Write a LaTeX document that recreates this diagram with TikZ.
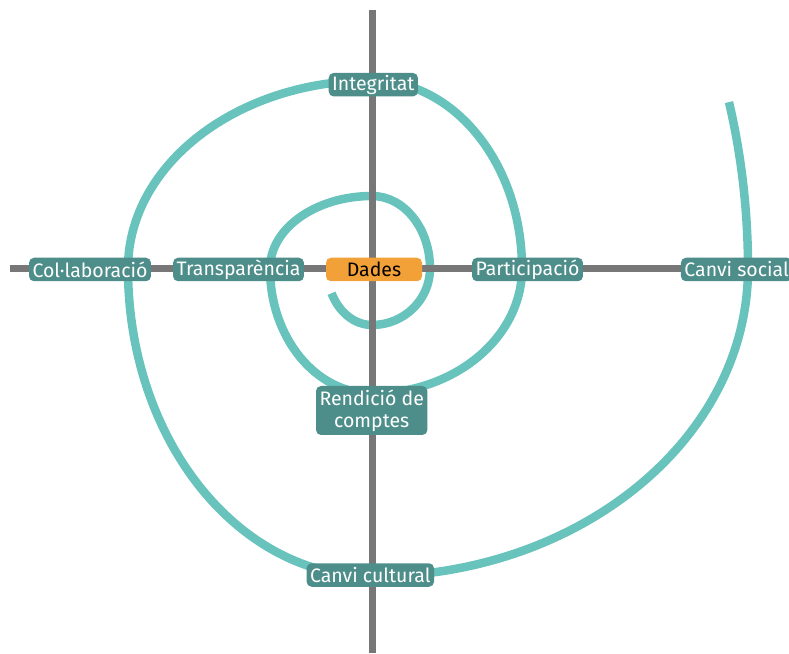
\documentclass[tikz,border=0pt]{standalone}
\usepackage{fontspec}
\setmainfont{Fira Sans}
\definecolor{spiralc}{HTML}{68C3BD}
\definecolor{labelc}{HTML}{4E8E8A}
\definecolor{axisc}{HTML}{777777}
\definecolor{dadesc}{HTML}{F2A038}
\tikzset{
  axisline/.style={draw=axisc, line width=7pt},
  spiralline/.style={draw=spiralc, line width=8.5pt},
  lbl/.style={fill=labelc, text=white, rounded corners=5pt, inner xsep=3.5pt, inner ysep=0pt,
    minimum height=23.5pt, font=\fontsize{19.5}{22}\selectfont, align=center},
  core/.style={lbl, fill=dadesc, text=black, minimum width=96pt}
}
\begin{document}
\begin{tikzpicture}[x=1pt,y=1pt]
\useasboundingbox (0,0) rectangle (789,653);
\coordinate (C) at (372,384.5);
\coordinate (vt) at (372,643);
\coordinate (vb) at (372,0);
\coordinate (hl) at (10,384.5);
\coordinate (hr) at (789,384.5);
% spiral
\draw[spiralline, shift={(C)}] (206:45pt and 56.5pt)
  arc[start angle=206, end angle=270, x radius=45pt,  y radius=56.5pt]
  arc[start angle=270, end angle=360, x radius=58pt,  y radius=56.5pt]
  arc[start angle=0,   end angle=90,  x radius=58pt,  y radius=72.5pt]
  arc[start angle=90,  end angle=180, x radius=102pt, y radius=72.5pt]
  arc[start angle=180, end angle=270, x radius=102pt, y radius=125pt]
  arc[start angle=270, end angle=360, x radius=150pt, y radius=125pt]
  arc[start angle=0,   end angle=90,  x radius=150pt, y radius=188pt]
  arc[start angle=90,  end angle=180, x radius=244pt, y radius=188pt]
  arc[start angle=180, end angle=270, x radius=244pt, y radius=308pt]
  arc[start angle=270, end angle=360, x radius=376pt, y radius=308pt]
  arc[start angle=0,   end angle=18.3, x radius=376pt, y radius=530pt];
% axes
\draw[axisline] (vt) -- (vb);
\draw[axisline] (hl) -- (hr);
% labels
\node[core] (dades) at (374,383.5) {Dades};
\node[lbl] (transp) at (238.5,383.5) {Transparència};
\node[lbl] (collab) at (90,383.5) {Col·laboració};
\node[lbl] (partic) at (527.5,383.5) {Participació};
\node[lbl, anchor=west] (social) at (680.7,383.5) {Canvi social};
\node[lbl] (integ) at (373.3,568.3) {Integritat};
\node[lbl, minimum height=49pt] (rendic) at (371.7,242.5) {Rendició de\\comptes};
\node[lbl] (cultural) at (370.3,78) {Canvi cultural};
\end{tikzpicture}
\end{document}
